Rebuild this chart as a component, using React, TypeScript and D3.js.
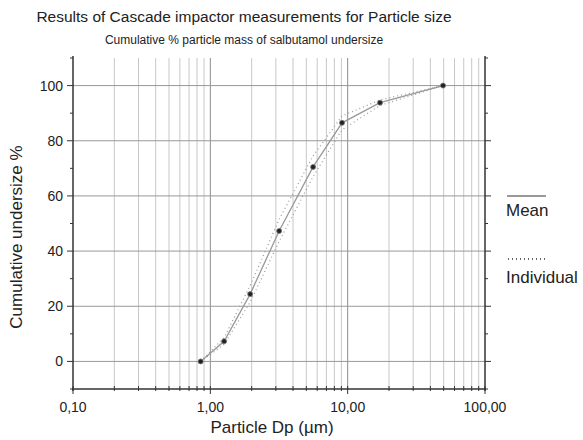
import React, { useEffect, useRef } from "react";
import * as d3 from "d3";

const particleSize = [0.85, 1.26, 1.95, 3.17, 5.6, 9.1, 17.2, 49.5];
const meanUndersize = [0, 7.3, 24.4, 47.3, 70.5, 86.5, 93.8, 100];
const individualA = [0, 8.6, 27.5, 51.5, 74.5, 89, 94.8, 100];
const individualB = [0, 6.2, 21.5, 43.5, 67, 84, 92.8, 100];
const xTickValues = [0.1, 1, 10, 100];
const xTickLabels = ["0,10", "1,00", "10,00", "100,00"];
const yTickValues = [0, 20, 40, 60, 80, 100];

const W = 583;
const H = 440;
const FONT = "Liberation Sans, Arial, sans-serif";

const App = () => {
  const ref = useRef<SVGSVGElement>(null);

  useEffect(() => {
    const svg = d3.select(ref.current);
    svg.selectAll("*").remove();

    const margin = { top: 58, right: 98, bottom: 51, left: 73 };
    const x = d3.scaleLog().domain([0.1, 100]).range([margin.left, W - margin.right]);
    const y = d3.scaleLinear().domain([-10, 110]).range([H - margin.bottom, margin.top]);
    const [x0, x1] = x.range();
    const [yb, yt] = y.range();

    svg.append("rect").attr("width", W).attr("height", H).attr("fill", "#fff");

    // minor vertical grid
    const minor: number[] = [];
    [0.1, 1, 10].forEach((d) => {
      for (let k = 2; k <= 9; k++) minor.push(d * k);
    });
    svg
      .append("g")
      .selectAll("line")
      .data(minor)
      .join("line")
      .attr("x1", (d) => x(d))
      .attr("x2", (d) => x(d))
      .attr("y1", yt)
      .attr("y2", yb)
      .attr("stroke", "#c8c8c8")
      .attr("stroke-width", 1);

    svg
      .append("g")
      .selectAll("line")
      .data([1, 10])
      .join("line")
      .attr("x1", (d) => x(d))
      .attr("x2", (d) => x(d))
      .attr("y1", yt)
      .attr("y2", yb)
      .attr("stroke", "#8c8c8c")
      .attr("stroke-width", 1);

    svg
      .append("g")
      .selectAll("line")
      .data(yTickValues)
      .join("line")
      .attr("x1", x0)
      .attr("x2", x1)
      .attr("y1", (d) => y(d))
      .attr("y2", (d) => y(d))
      .attr("stroke", "#999")
      .attr("stroke-width", 1);

    // axes
    const axisColor = "#333";
    const yMinor = d3.range(-10, 111, 20);
    const axes = svg.append("g").attr("stroke", axisColor);
    axes.append("line").attr("x1", x0).attr("x2", x0).attr("y1", yt - 2).attr("y2", yb + 2).attr("stroke-width", 1.5);
    axes.append("line").attr("x1", x1).attr("x2", x1).attr("y1", yt - 2).attr("y2", yb + 2).attr("stroke-width", 1.5);
    axes.append("line").attr("x1", x0 - 1).attr("x2", x1 + 1).attr("y1", yb).attr("y2", yb).attr("stroke-width", 1.5);

    [x0, x1].forEach((ax, side) => {
      const dir = side === 0 ? -1 : 1;
      axes
        .append("g")
        .selectAll("line.maj")
        .data(yTickValues)
        .join("line")
        .attr("x1", ax)
        .attr("x2", ax + dir * 6)
        .attr("y1", (d) => y(d))
        .attr("y2", (d) => y(d));
      axes
        .append("g")
        .selectAll("line.min")
        .data(yMinor)
        .join("line")
        .attr("x1", ax)
        .attr("x2", ax + dir * 3)
        .attr("y1", (d) => y(d))
        .attr("y2", (d) => y(d));
    });

    axes
      .append("g")
      .selectAll("line")
      .data(xTickValues)
      .join("line")
      .attr("x1", (d) => x(d))
      .attr("x2", (d) => x(d))
      .attr("y1", yb - 3)
      .attr("y2", yb + 5);
    axes
      .append("g")
      .selectAll("line")
      .data(minor)
      .join("line")
      .attr("x1", (d) => x(d))
      .attr("x2", (d) => x(d))
      .attr("y1", yb - 3)
      .attr("y2", yb + 2);

    // tick labels
    svg
      .append("g")
      .selectAll("text")
      .data(yTickValues)
      .join("text")
      .attr("x", x0 - 10)
      .attr("y", (d) => y(d) + 5)
      .attr("text-anchor", "end")
      .attr("font-family", FONT)
      .attr("font-size", 14)
      .attr("fill", "#222")
      .text((d) => d);

    svg
      .append("g")
      .selectAll("text")
      .data(xTickValues)
      .join("text")
      .attr("x", (d) => x(d))
      .attr("y", yb + 23)
      .attr("text-anchor", "middle")
      .attr("font-family", FONT)
      .attr("font-size", 14)
      .attr("fill", "#222")
      .text((d, i) => xTickLabels[i]);

    // lines
    const line = d3
      .line<number>()
      .x((d, i) => x(particleSize[i]))
      .y((d) => y(d));

    [individualA, individualB].forEach((s) => {
      svg
        .append("path")
        .attr("d", line(s))
        .attr("fill", "none")
        .attr("stroke", "#999")
        .attr("stroke-width", 1.2)
        .attr("stroke-dasharray", "1,3");
    });

    svg
      .append("path")
      .attr("d", line(meanUndersize))
      .attr("fill", "none")
      .attr("stroke", "#999")
      .attr("stroke-width", 1.3);

    svg
      .append("g")
      .selectAll("circle")
      .data(meanUndersize)
      .join("circle")
      .attr("cx", (d, i) => x(particleSize[i]))
      .attr("cy", (d) => y(d))
      .attr("r", 2.5)
      .attr("fill", "#222")
      .attr("stroke", "#777")
      .attr("stroke-width", 0.8);

    // titles
    svg
      .append("text")
      .attr("x", 244)
      .attr("y", 22)
      .attr("text-anchor", "middle")
      .attr("font-family", FONT)
      .attr("font-size", 15.5)
      .attr("fill", "#222")
      .text("Results of Cascade impactor measurements for Particle size");
    svg
      .append("text")
      .attr("x", 244)
      .attr("y", 44)
      .attr("text-anchor", "middle")
      .attr("font-family", FONT)
      .attr("font-size", 12)
      .attr("fill", "#222")
      .text("Cumulative % particle mass of salbutamol undersize");
    svg
      .append("text")
      .attr("transform", `translate(22,237) rotate(-90)`)
      .attr("text-anchor", "middle")
      .attr("font-family", FONT)
      .attr("font-size", 17)
      .attr("fill", "#222")
      .text("Cumulative undersize %");
    svg
      .append("text")
      .attr("x", 272)
      .attr("y", 433)
      .attr("text-anchor", "middle")
      .attr("font-family", FONT)
      .attr("font-size", 17)
      .attr("fill", "#222")
      .text("Particle Dp (µm)");

    // legend
    const lg = svg.append("g").attr("font-family", FONT).attr("font-size", 17).attr("fill", "#222");
    lg.append("line").attr("x1", 507).attr("x2", 546).attr("y1", 196).attr("y2", 196).attr("stroke", "#333").attr("stroke-width", 1);
    lg.append("text").attr("x", 506).attr("y", 216).text("Mean");
    lg.append("line").attr("x1", 508).attr("x2", 546).attr("y1", 259).attr("y2", 259).attr("stroke", "#333").attr("stroke-width", 1.3).attr("stroke-dasharray", "1,3");
    lg.append("text").attr("x", 506).attr("y", 283).text("Individual");
  }, []);

  return <svg ref={ref} width={W} height={H} style={{ position: "absolute", left: 0, top: 0 }} />;
};

export default App;
